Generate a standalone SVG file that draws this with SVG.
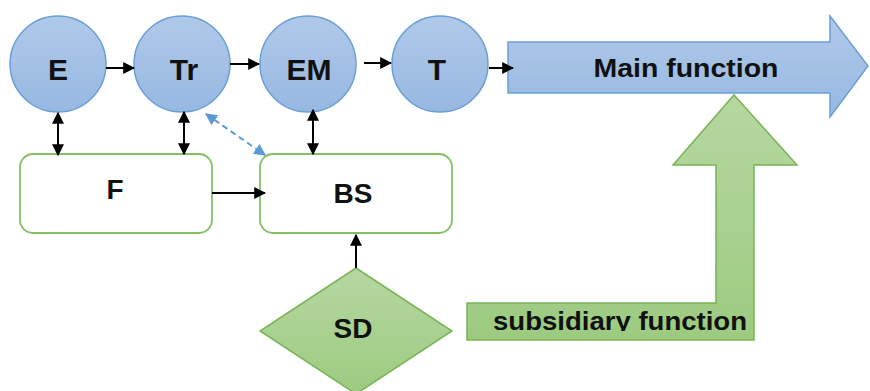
<svg xmlns="http://www.w3.org/2000/svg" width="870" height="391" viewBox="0 0 870 391">
<style>
.lbl{font-family:"Liberation Sans",Arial,sans-serif;font-weight:bold;fill:#111;text-anchor:middle}
.circ{fill:url(#gBlue);stroke:#6a9fd6;stroke-width:1.5}
.box{fill:#fff;stroke:#86bf60;stroke-width:1.8}
.grn{fill:url(#gGreen);stroke:#7ab356;stroke-width:1.5}
.con{stroke:#000;stroke-width:2;fill:none}
</style>
<defs>
<linearGradient id="gBlue" x1="0" y1="0" x2="0" y2="1">
<stop offset="0" stop-color="#b0c9e9"/><stop offset="1" stop-color="#97b8e1"/>
</linearGradient>
<linearGradient id="gGreen" x1="0" y1="0" x2="0" y2="1">
<stop offset="0" stop-color="#b6d7a1"/><stop offset="1" stop-color="#9ccb80"/>
</linearGradient>
<marker id="ah" viewBox="0 0 10 10" refX="9" refY="5" markerWidth="6" markerHeight="6" orient="auto-start-reverse">
<path d="M0,0 L10,5 L0,10 z" fill="#000"/>
</marker>
<marker id="ahb" viewBox="0 0 10 10" refX="9" refY="5" markerWidth="6" markerHeight="6" orient="auto-start-reverse">
<path d="M0,0 L10,5 L0,10 z" fill="#5b9bd5"/>
</marker>
<clipPath id="subClip"><rect x="460" y="290" width="300" height="41"/></clipPath>
</defs>

<g id="main-function">
<polygon points="508,42 830,42 830,16 868,66 830,117 830,93 508,93" fill="url(#gBlue)" stroke="#6a9fd6" stroke-width="1.5"/>
<text class="lbl" x="686" y="77" font-size="26" textLength="185" lengthAdjust="spacingAndGlyphs">Main function</text>
</g>

<g id="subsidiary-function">
<polygon class="grn" points="467,303 716,303 716,165 673,165 734,95 797,165 754,165 754,340 467,340"/>
<text class="lbl" x="620" y="330" font-size="26" textLength="254" lengthAdjust="spacingAndGlyphs" clip-path="url(#subClip)">subsidiary function</text>
</g>

<g id="E"><circle class="circ" cx="58" cy="64" r="48"/><text class="lbl" x="58" y="80" font-size="30">E</text></g>
<g id="Tr"><circle class="circ" cx="182" cy="64" r="48"/><text class="lbl" x="184" y="80" font-size="30">Tr</text></g>
<g id="EM"><circle class="circ" cx="308" cy="64" r="48"/><text class="lbl" x="309" y="80" font-size="30">EM</text></g>
<g id="T"><circle class="circ" cx="440" cy="64" r="48"/><text class="lbl" x="437" y="80" font-size="30">T</text></g>

<g id="F"><rect class="box" x="20" y="154" width="192" height="79" rx="13"/><text class="lbl" x="115" y="199" font-size="28">F</text></g>
<g id="BS"><rect class="box" x="260" y="154" width="192" height="79" rx="13"/><text class="lbl" x="353" y="203" font-size="28">BS</text></g>
<g id="SD"><polygon class="grn" points="356,268 452,331 356,394 260,331"/><text class="lbl" x="353" y="338" font-size="28">SD</text></g>

<g id="connectors">
<line class="con" x1="106" y1="68" x2="134" y2="68" marker-end="url(#ah)"/>
<line class="con" x1="230" y1="64" x2="259" y2="64" marker-end="url(#ah)"/>
<line class="con" x1="364" y1="63" x2="391" y2="63" marker-end="url(#ah)"/>
<line class="con" x1="489" y1="68" x2="513" y2="68" marker-end="url(#ah)"/>
<line class="con" x1="58" y1="113" x2="58" y2="155" marker-start="url(#ah)" marker-end="url(#ah)"/>
<line class="con" x1="184" y1="112" x2="184" y2="154" marker-start="url(#ah)" marker-end="url(#ah)"/>
<line class="con" x1="313" y1="110" x2="313" y2="154" marker-start="url(#ah)" marker-end="url(#ah)"/>
<line x1="206" y1="114" x2="265" y2="155" stroke="#5b9bd5" stroke-width="2" stroke-dasharray="6,4" marker-start="url(#ahb)" marker-end="url(#ahb)"/>
<line class="con" x1="212" y1="193" x2="265" y2="193" marker-end="url(#ah)"/>
<line class="con" x1="356" y1="268" x2="356" y2="235" marker-end="url(#ah)"/>
</g>
</svg>
